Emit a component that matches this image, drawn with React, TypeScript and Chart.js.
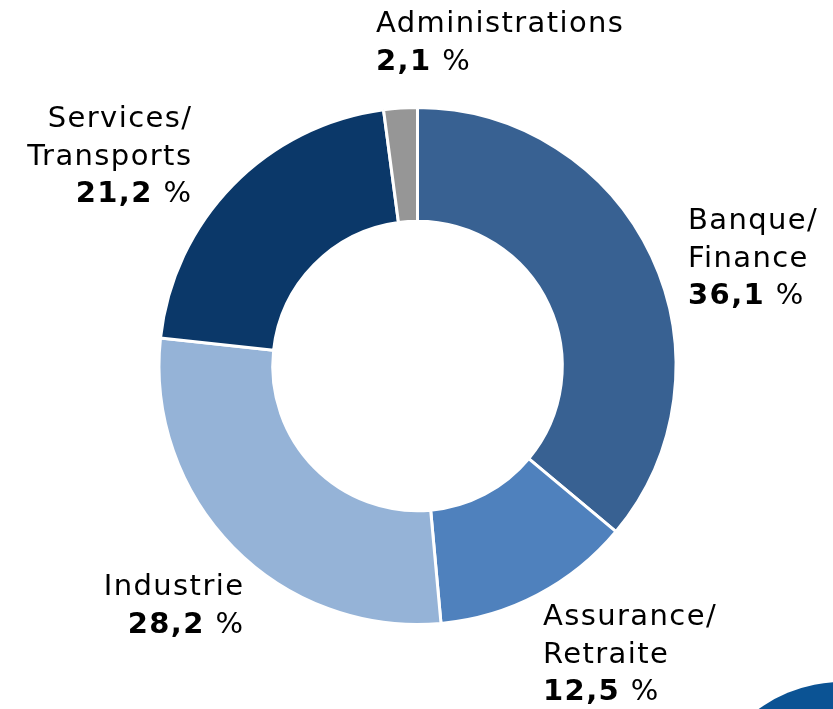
import React, { useEffect, useRef } from "react";
import { Chart, registerables } from "chart.js";

Chart.register(...registerables);

const categories = ["Banque/Finance", "Assurance/Retraite", "Industrie", "Services/Transports", "Administrations"];
const shares = [36.1, 12.5, 28.2, 21.2, 2.1];
const colors = ["#386192", "#4F81BD", "#95B3D7", "#0B3869", "#969696"];

type Lbl = { lines: string[]; value: string; left: number; top: number; align: "left" | "right" };
const labelLines: string[][] = [["Banque/", "Finance"], ["Assurance/", "Retraite"], ["Industrie"], ["Services/", "Transports"], ["Administrations"]];
const labelPos: { left: number; top: number; align: "left" | "right" }[] = [
  { left: 688, top: 201, align: "left" },
  { left: 543, top: 597, align: "left" },
  { left: 243, top: 567, align: "right" },
  { left: 191, top: 99, align: "right" },
  { left: 376, top: 4, align: "left" },
];

const fmt = (v: number) => v.toFixed(1).replace(".", ",");

export default function App() {
  const ref = useRef<HTMLCanvasElement | null>(null);
  useEffect(() => {
    if (!ref.current) return;
    const chart = new Chart(ref.current, {
      type: "doughnut",
      data: {
        labels: categories,
        datasets: [
          {
            data: shares,
            backgroundColor: colors,
            borderColor: "#ffffff",
            borderWidth: 3,
          },
        ],
      },
      options: {
        responsive: false,
        animation: false,
        cutout: "56%",
        layout: { padding: { top: 106, bottom: 83, left: 157.5, right: 155.5 } },
        plugins: { legend: { display: false }, tooltip: { enabled: false } },
      },
    });
    return () => chart.destroy();
  }, []);

  const labels: Lbl[] = categories.map((_, i) => ({
    lines: labelLines[i],
    value: fmt(shares[i]),
    ...labelPos[i],
  }));

  return (
    <div style={{ position: "fixed", left: 0, top: 0, width: 833, height: 709, overflow: "hidden", background: "#fff" }}>
      <div
        style={{
          position: "absolute",
          left: 842 - 142,
          top: 824 - 142,
          width: 284,
          height: 284,
          borderRadius: "50%",
          background: "#0B5394",
        }}
      />
      <canvas ref={ref} width={833} height={709} style={{ position: "absolute", left: 0, top: 0 }} />
      {labels.map((l, i) => (
        <div
          key={i}
          style={{
            position: "absolute",
            top: l.top,
            left: l.align === "left" ? l.left : undefined,
            right: l.align === "right" ? 833 - l.left - 1.4 : undefined,
            textAlign: l.align,
            fontFamily: "'DejaVu Sans', sans-serif",
            fontSize: 29,
            letterSpacing: "1.4px",
            lineHeight: "37.5px",
            color: "#000",
            whiteSpace: "nowrap",
          }}
        >
          {l.lines.map((t, j) => (
            <div key={j}>{t}</div>
          ))}
          <div>
            <b>{l.value}</b> %
          </div>
        </div>
      ))}
    </div>
  );
}
